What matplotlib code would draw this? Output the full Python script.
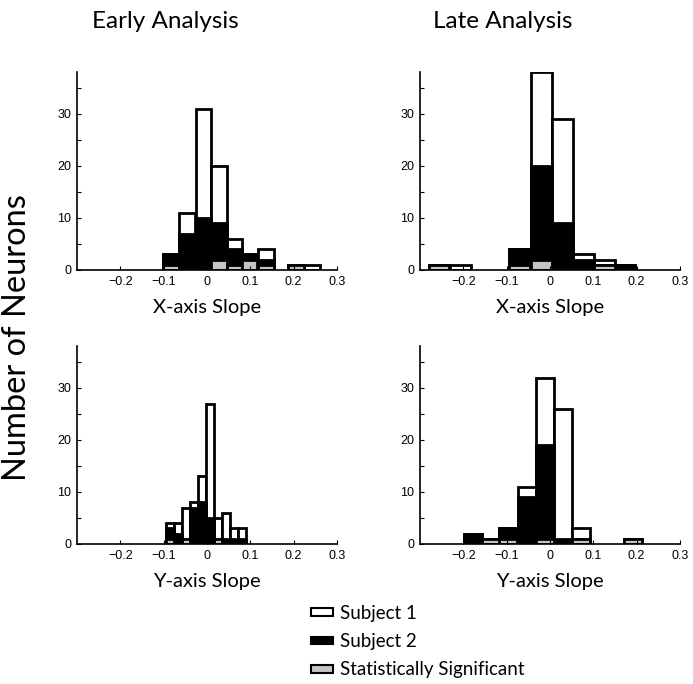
import matplotlib
matplotlib.use("Agg")
import matplotlib.pyplot as plt
from matplotlib.patches import Patch

# bin centres (slope) and neuron counts
# s1 = Subject 1 (white, drawn full height), s2 = Subject 2 (black), sig = statistically significant (grey)
early_x_bins = [-0.083, -0.046, -0.008, 0.028, 0.063, 0.098, 0.136, 0.206, 0.242]
early_x_s1 = [3, 11, 31, 20, 6, 3, 4, 1, 1]
early_x_s2 = [3, 7, 10, 9, 4, 3, 2, 1, 0]
early_x_sig = [1, 0, 0, 2, 1, 2, 1, 1, 0]

late_x_bins = [-0.256, -0.206, -0.070, -0.020, 0.0295, 0.077, 0.125, 0.173]
late_x_s1 = [1, 1, 4, 38, 29, 3, 2, 1]
late_x_s2 = [1, 0, 4, 20, 9, 2, 1, 1]
late_x_sig = [1, 0, 1, 2, 0, 0, 1, 0]

early_y_bins = [-0.0865, -0.0665, -0.048, -0.0295, -0.0105, 0.0075, 0.025, 0.0435, 0.0615, 0.080]
early_y_s1 = [4, 4, 7, 8, 13, 27, 5, 6, 3, 3]
early_y_s2 = [3, 2, 1, 7, 8, 5, 1, 1, 1, 1]
early_y_sig = [1, 0, 1, 0, 0, 0, 1, 0, 0, 0]

late_y_bins = [-0.178, -0.136, -0.096, -0.054, -0.0115, 0.030, 0.071, 0.192]
late_y_s1 = [2, 1, 3, 11, 32, 26, 3, 1]
late_y_s2 = [2, 0, 3, 9, 19, 1, 1, 0]
late_y_sig = [0, 1, 1, 0, 1, 0, 1, 1]

xticks = [-0.2, -0.1, 0, 0.1, 0.2, 0.3]
xticklabels = ["\u22120.2", "\u22120.1", "0", "0.1", "0.2", "0.3"]
yticks = [0, 5, 10, 15, 20, 25, 30, 35]
yticklabels = ["0", "", "10", "", "20", "", "30", ""]

titles = ["Early Analysis", "Late Analysis"]
xlabels = ["X-axis Slope", "Y-axis Slope"]
legend_labels = ["Subject 1", "Subject 2", "Statistically Significant"]

TXT = ["Lato", "DejaVu Sans"]
TICK = ["Liberation Sans", "DejaVu Sans"]
GREY = "#c4c4c4"
LW = 2.0

W, H = 693, 684
fig = plt.figure(figsize=(W / 100, H / 100), dpi=100)


def draw_panel(ax, bins, s1, s2, sig, width):
    for vals, col in [(s1, "white"), (s2, "black"), (sig, GREY)]:
        xs = [b for b, v in zip(bins, vals) if v > 0]
        hs = [v for v in vals if v > 0]
        ax.bar(xs, hs, width, color=col, edgecolor="black", linewidth=LW)
    ax.set_xlim(-0.3, 0.3)
    ax.set_ylim(0, 38)
    for s in ["top", "right"]:
        ax.spines[s].set_visible(False)
    for s in ["left", "bottom"]:
        ax.spines[s].set_linewidth(1.2)
    ax.set_xticks(xticks)
    ax.set_xticklabels(xticklabels, fontfamily=TICK, fontsize=9)
    ax.set_yticks(yticks)
    ax.set_yticklabels(yticklabels, fontfamily=TICK, fontsize=9)
    ax.tick_params(direction="in", length=3, width=0.8, pad=4)


# axes geometry in pixels (left, baseline)
lefts = [77, 420]
baselines = [270, 544]
aw, ah = 260, 197.6

panels = [
    [(early_x_bins, early_x_s1, early_x_s2, early_x_sig, 0.036),
     (late_x_bins, late_x_s1, late_x_s2, late_x_sig, 0.048)],
    [(early_y_bins, early_y_s1, early_y_s2, early_y_sig, 0.0185),
     (late_y_bins, late_y_s1, late_y_s2, late_y_sig, 0.0415)],
]

for r in range(2):
    for c in range(2):
        ax = fig.add_axes([lefts[c] / W, 1 - baselines[r] / H, aw / W, ah / H])
        draw_panel(ax, *panels[r][c])
        ax.set_xlabel(xlabels[r], fontfamily=TXT, fontsize=14.5)
        ax.xaxis.set_label_coords(0.5, -0.19)
        ax.xaxis.label.set_verticalalignment("center")

fig.text(165 / W, 1 - 21 / H, titles[0], fontfamily=TXT, fontsize=17.5, ha="center", va="center")
fig.text(503 / W, 1 - 21 / H, titles[1], fontfamily=TXT, fontsize=17.5, ha="center", va="center")
fig.text(17 / W, 1 - 338 / H, "Number of Neurons", fontfamily=TXT, fontsize=23.5,
         rotation=90, ha="center", va="center")

handles = [Patch(facecolor="white", edgecolor="black", linewidth=1.5),
           Patch(facecolor="black", edgecolor="black", linewidth=1.5),
           Patch(facecolor=GREY, edgecolor="black", linewidth=1.5)]
fig.legend(handles, legend_labels, loc="upper left", bbox_to_anchor=(311 / W, 1 - 605 / H),
           frameon=False, borderpad=0, borderaxespad=0, handlelength=1.15, handleheight=0.25,
           handletextpad=0.4, labelspacing=0.6, prop={"family": TXT, "size": 13.5})

fig.savefig("out.png", dpi=100)
